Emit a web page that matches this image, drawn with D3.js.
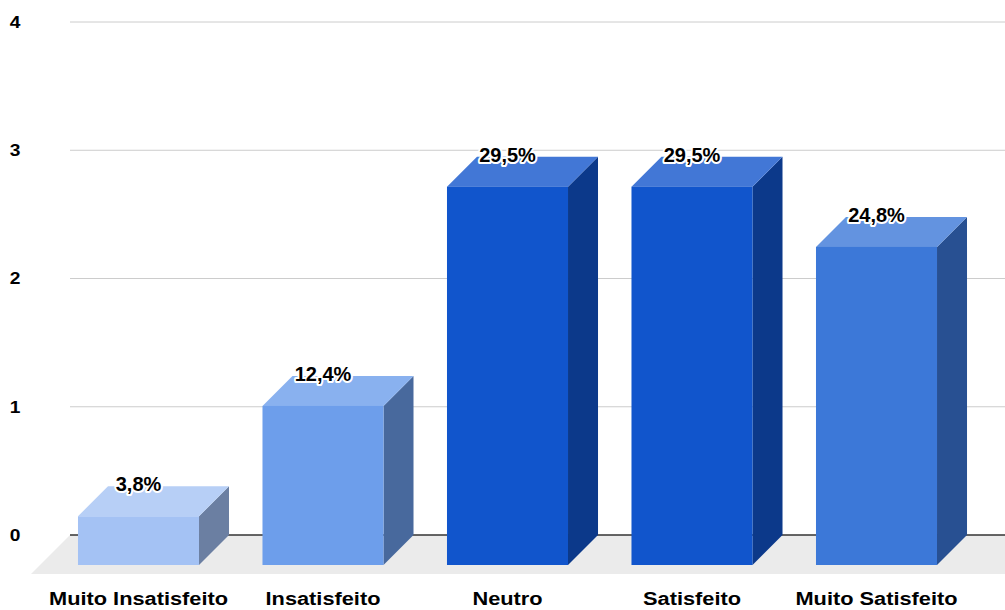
<!DOCTYPE html>
<html>
<head>
<meta charset="utf-8">
<script src="https://cdn.jsdelivr.net/npm/d3@7"></script>
<style>
  body { margin: 0; background: #fff; }
  svg { display: block; }
  text { font-family: "Liberation Sans", Arial, sans-serif; font-weight: bold; fill: #000; }
</style>
</head>
<body>
<svg id="chart" width="1005" height="610"></svg>
<script>
// Satisfaction survey: share of answers per level
const categories = ["Muito Insatisfeito", "Insatisfeito", "Neutro", "Satisfeito", "Muito Satisfeito"];
const percentages = [3.8, 12.4, 29.5, 29.5, 24.8];
const yTicks = [0, 1, 2, 3, 4];

// face colours per bar: front, top, right side
const frontColors = ["#a4c2f4", "#6d9eeb", "#1155cc", "#1155cc", "#3c78d8"];
const topColors   = ["#b7cff6", "#89b1ef", "#4277d6", "#4277d6", "#6393e0"];
const sideColors  = ["#6b7fa2", "#48699d", "#0c398a", "#0c398a", "#285092"];

const W = 1005, H = 610;
const dx = 30, dy = 30;          // bar depth offset (back plane vs front face)
const floorDepth = 39;           // floor extends a bit in front of the bars
const gridLeft = 70, gridRight = 1005;

const svg = d3.select("#chart");

// scales on the back (grid) plane
const y = d3.scaleLinear().domain([0, 4]).range([535, 22]);
const x = d3.scaleBand()
  .domain(categories)
  .range([76.25, 998.75])
  .paddingInner(0.344)
  .paddingOuter(0.172);
const bw = x.bandwidth();

const pctFmt = d => d3.format(".1f")(d).replace(".", ",") + "%";
const axisValue = p => p / 10;

// horizontal gridlines
svg.append("g")
  .selectAll("line")
  .data(yTicks.filter(t => t !== 0))
  .join("line")
  .attr("x1", gridLeft).attr("x2", gridRight)
  .attr("y1", d => y(d)).attr("y2", d => y(d))
  .attr("stroke", "#cccccc").attr("stroke-width", 1);

// floor plane
const y0 = y(0);
svg.append("path")
  .attr("d", `M${gridLeft},${y0} L${gridRight + floorDepth},${y0} L${gridRight},${y0 + floorDepth} L${gridLeft - floorDepth},${y0 + floorDepth} Z`)
  .attr("fill", "#ebebeb");

// zero baseline
svg.append("line")
  .attr("x1", gridLeft).attr("x2", gridRight)
  .attr("y1", y0).attr("y2", y0)
  .attr("stroke", "#333333").attr("stroke-width", 1.5);

// y tick labels
svg.append("g")
  .selectAll("text")
  .data(yTicks)
  .join("text")
  .attr("transform", d => `translate(15,${y(d)}) scale(1.2,1)`)
  .attr("text-anchor", "middle")
  .attr("dy", "0.36em")
  .attr("font-size", 16)
  .text(d => d);

// 3D bars
const bars = svg.append("g")
  .selectAll("g")
  .data(percentages.map((p, i) => ({ cat: categories[i], p, i })))
  .join("g");

bars.each(function (d) {
  const g = d3.select(this);
  const bx = x(d.cat);             // back-left x
  const by = y(axisValue(d.p));    // back-top y
  const fx = bx - dx, fy = by + dy, fb = y0 + dy;

  // right side face
  g.append("path")
    .attr("d", `M${fx + bw},${fy} L${bx + bw},${by} L${bx + bw},${y0} L${fx + bw},${fb} Z`)
    .attr("fill", sideColors[d.i]);
  // top face
  g.append("path")
    .attr("d", `M${fx},${fy} L${bx},${by} L${bx + bw},${by} L${fx + bw},${fy} Z`)
    .attr("fill", topColors[d.i]);
  // front face
  g.append("rect")
    .attr("x", fx).attr("y", fy)
    .attr("width", bw).attr("height", fb - fy)
    .attr("fill", frontColors[d.i]);
});

// value labels
svg.append("g")
  .selectAll("text")
  .data(percentages.map((p, i) => ({ cat: categories[i], p })))
  .join("text")
  .attr("x", d => x(d.cat) - dx + bw / 2)
  .attr("y", d => y(axisValue(d.p)) + 5)
  .attr("text-anchor", "middle")
  .attr("font-size", 20)
  .attr("stroke", "#ffffff")
  .attr("stroke-width", 4)
  .attr("stroke-linejoin", "round")
  .attr("paint-order", "stroke")
  .text(d => pctFmt(d.p));

// category labels
svg.append("g")
  .selectAll("text")
  .data(categories)
  .join("text")
  .attr("transform", d => `translate(${x(d) - dx + bw / 2},605) scale(1.21,1)`)
  .attr("text-anchor", "middle")
  .attr("font-size", 18)
  .text(d => d);
</script>
</body>
</html>
